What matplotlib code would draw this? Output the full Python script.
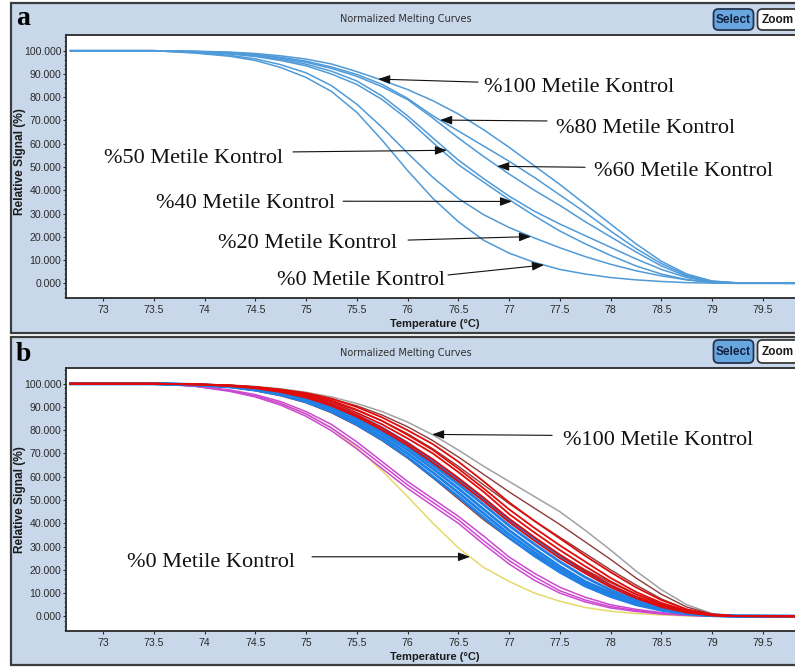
import matplotlib.pyplot as plt
from matplotlib.patches import Rectangle, FancyBboxPatch
from matplotlib.ticker import MultipleLocator, FormatStrFormatter, FuncFormatter

# temperatures (deg C) at which every melting curve is read
temps = [72.68, 73.5, 73.9, 74.25, 74.5, 74.75, 75.0, 75.25, 75.5, 75.75, 76.0, 76.25,
         76.5, 76.75, 77.0, 77.25, 77.5, 77.75, 78.0, 78.25, 78.5, 78.75, 79.0, 79.25, 79.9]

# (a) methylation control standards, relative signal (%)
met100 = [100, 100, 99.8, 99.4, 98.8, 97.8, 96.4, 94.3, 91.0, 87.3, 83.3, 78.5, 72.8, 66.0,
          58.5, 50.5, 42.5, 34.0, 25.5, 17.0, 9.5, 4.0, 1.0, 0.2, 0]
met80 = [100, 100, 99.7, 99.2, 98.4, 97.2, 95.5, 93.0, 89.8, 85.5, 79.5, 72.0, 65.5, 59.0,
         52.5, 45.5, 38.0, 30.5, 22.5, 15.0, 8.5, 3.5, 0.9, 0.2, 0]
met60 = [100, 100, 99.6, 99.0, 98.1, 96.8, 95.0, 92.4, 89.0, 84.5, 79.0, 71.0, 62.5, 54.5,
         47.0, 40.0, 33.5, 26.5, 20.0, 13.5, 7.5, 3.0, 0.7, 0.1, 0]
met50 = [100, 100, 99.5, 98.8, 97.8, 96.3, 94.2, 91.2, 87.0, 80.5, 72.0, 62.5, 53.0, 45.0,
         37.5, 31.0, 25.5, 20.5, 15.5, 10.5, 6.0, 2.5, 0.6, 0.1, 0]
met40 = [100, 100, 99.4, 98.6, 97.5, 95.8, 93.5, 90.0, 85.5, 79.0, 70.5, 60.5, 51.0, 43.5,
         36.0, 29.0, 22.5, 17.0, 12.0, 7.5, 4.0, 1.6, 0.4, 0.1, 0]
met20 = [100, 100, 99.2, 98.0, 96.5, 94.0, 90.5, 85.0, 77.0, 67.0, 56.0, 45.5, 36.5, 29.5,
         24.0, 19.5, 15.3, 11.5, 8.2, 5.4, 3.2, 1.5, 0.4, 0, 0]
met0 = [100, 100, 99.0, 97.6, 95.8, 92.8, 88.5, 82.5, 73.5, 61.5, 48.5, 36.5, 26.5, 18.5,
        13.0, 9.0, 6.0, 4.0, 2.5, 1.5, 0.8, 0.3, 0.1, 0, 0]

# (b) samples run together with the controls
gray = [100, 100, 99.8, 99.4, 98.8, 97.8, 96.3, 94.3, 91.5, 88.0, 83.5, 78.0, 71.5, 64.5,
        58.0, 51.5, 45.0, 37.0, 28.5, 19.5, 11.5, 5.0, 1.2, 0.2, 0]
browns = [
    [100, 100, 99.8, 99.3, 98.6, 97.5, 95.8, 93.5, 90.5, 86.5, 81.5, 75.5, 68.5, 61.0,
     53.5, 46.5, 39.5, 32.0, 24.5, 16.5, 9.5, 4.0, 1.0, 0.2, 0],
    [100, 100, 99.7, 99.2, 98.4, 97.0, 95.0, 92.2, 88.5, 84.0, 78.5, 72.0, 64.5, 56.5,
     48.5, 41.0, 34.0, 27.0, 20.0, 13.5, 7.5, 3.0, 0.8, 0.1, 0],
    [100, 100, 99.6, 98.9, 97.8, 96.0, 93.5, 90.0, 85.5, 80.0, 73.5, 66.0, 58.0, 49.5,
     41.0, 33.5, 26.5, 20.0, 14.5, 9.5, 5.5, 2.5, 0.6, 0.1, 0],
    [100, 100, 99.5, 98.5, 97.0, 94.8, 91.8, 87.5, 82.0, 75.5, 68.0, 59.5, 50.5, 41.5,
     33.5, 26.5, 20.5, 15.0, 10.5, 6.5, 3.5, 1.5, 0.4, 0.1, 0],
]
reds = [
    [100, 100, 99.8, 99.3, 98.6, 97.5, 96.0, 93.6, 90.0, 85.5, 80.0, 74.0, 66.5, 58.0,
     49.0, 41.0, 33.5, 26.0, 19.0, 12.5, 7.0, 3.0, 0.8, 0.1, 0],
    [100, 100, 99.8, 99.2, 98.5, 97.3, 95.5, 92.8, 88.8, 84.0, 78.0, 71.5, 63.5, 55.0,
     46.0, 38.0, 30.5, 23.5, 16.5, 10.5, 5.8, 2.4, 0.6, 0.1, 0],
    [100, 100, 99.7, 99.2, 98.4, 97.2, 95.0, 92.0, 87.5, 82.5, 76.5, 70.0, 62.0, 53.5,
     44.0, 36.0, 28.5, 21.5, 15.0, 9.5, 5.0, 2.0, 0.5, 0.1, 0],
    [100, 100, 99.7, 99.1, 98.2, 96.8, 94.5, 91.2, 86.5, 81.0, 74.5, 67.5, 59.5, 51.0,
     42.0, 34.0, 26.5, 19.5, 13.5, 8.5, 4.5, 1.8, 0.5, 0.1, 0],
    [100, 100, 99.7, 99.0, 98.0, 96.4, 94.0, 90.5, 85.8, 80.0, 73.5, 66.0, 58.0, 49.5,
     40.5, 32.5, 25.0, 18.5, 12.5, 7.8, 4.0, 1.6, 0.4, 0.1, 0],
]
blues = [
    [100, 100, 99.7, 99.0, 98.0, 96.5, 94.2, 91.0, 86.5, 81.0, 74.5, 67.0, 59.0, 50.5,
     41.5, 33.5, 26.0, 19.0, 13.0, 8.0, 4.5, 2.0, 0.5, 0.1, 0],
    [100, 100, 99.6, 98.9, 97.8, 96.1, 93.6, 90.0, 85.2, 79.5, 72.8, 65.0, 56.8, 48.0,
     39.0, 31.0, 23.5, 16.8, 11.3, 7.0, 3.8, 1.6, 0.4, 0.1, 0],
    [100, 100, 99.6, 98.8, 97.6, 95.8, 93.2, 89.5, 84.5, 78.5, 71.5, 63.5, 55.0, 46.0,
     37.0, 29.0, 21.5, 15.0, 10.0, 6.0, 3.2, 1.3, 0.4, 0.1, 0],
    [100, 100, 99.5, 98.7, 97.4, 95.5, 92.7, 88.8, 83.5, 77.2, 70.0, 61.8, 53.2, 44.2,
     35.3, 27.5, 20.2, 14.0, 9.2, 5.5, 2.9, 1.2, 0.3, 0.1, 0],
    [100, 100, 99.5, 98.6, 97.2, 95.2, 92.2, 88.0, 82.5, 76.0, 68.5, 60.0, 51.5, 42.5,
     33.8, 26.0, 19.0, 13.0, 8.5, 5.0, 2.6, 1.1, 0.3, 0.1, 0],
]
magentas = [
    [100, 100, 99.1, 97.3, 95.3, 92.3, 88.0, 82.5, 75.0, 66.5, 58.0, 50.5, 43.0, 34.5,
     25.5, 18.5, 12.5, 8.2, 5.0, 3.0, 1.6, 0.6, 0.1, 0, 0],
    [100, 100, 99.0, 97.0, 94.8, 91.5, 87.0, 81.0, 73.5, 65.0, 56.5, 49.0, 41.5, 32.5,
     24.0, 17.0, 11.0, 7.0, 4.2, 2.5, 1.3, 0.5, 0.1, 0, 0],
    [100, 100, 98.9, 96.7, 94.3, 90.8, 86.0, 79.8, 72.0, 63.5, 55.0, 47.5, 40.0, 31.0,
     22.5, 15.5, 10.0, 6.2, 3.6, 2.1, 1.0, 0.4, 0.1, 0, 0],
]
yellow = [100, 100, 99.0, 97.0, 94.8, 91.5, 87.0, 81.0, 72.5, 62.5, 51.5, 40.0, 29.5, 21.0,
          15.0, 10.0, 6.5, 3.8, 2.2, 1.2, 0.6, 0.2, 0, 0, 0]

curves_a = [met100, met80, met60, met50, met40, met20, met0]

# label text, text anchor (T, signal), arrow start, arrow tip
notes_a = [
    ('%100 Metile Kontrol', (76.754, 82.2), (76.695, 86.5), (75.709, 87.8)),
    ('%80 Metile Kontrol', (77.463, 64.6), (77.374, 69.8), (76.320, 70.2)),
    ('%60 Metile Kontrol', (77.837, 46.1), (77.749, 49.9), (76.882, 50.3)),
    ('%50 Metile Kontrol', (73.010, 51.7), (74.872, 56.5), (76.389, 57.2)),
    ('%40 Metile Kontrol', (73.522, 32.4), (75.365, 35.3), (77.030, 35.2)),
    ('%20 Metile Kontrol', (74.133, 15.2), (76.005, 18.6), (77.217, 20.1)),
    ('%0 Metile Kontrol', (74.714, -0.7), (76.399, 3.6), (77.345, 7.9)),
]
notes_b = [
    ('%100 Metile Kontrol', (77.532, 73.7), (77.424, 77.8), (76.241, 78.2)),
    ('%0 Metile Kontrol', (73.236, 21.2), (75.059, 25.6), (76.616, 25.6)),
]

plt.rcParams['font.family'] = ['Liberation Sans', 'DejaVu Sans']

fig = plt.figure(figsize=(7.95, 6.70), dpi=100)

# window chrome drawn in pixel units
bg = fig.add_axes([0, 0, 1, 1])
bg.set_xlim(0, 795)
bg.set_ylim(670, 0)
bg.axis('off')


def draw_window(top, bottom, letter, base, btn_top, btn_h):
    bg.add_patch(Rectangle((10.5, top), 820, bottom - top, facecolor='#c8d8ea',
                           edgecolor='#3c3c3c', lw=1.6))
    bg.text(16, base, letter, fontsize=20, fontweight='bold',
            family='Liberation Serif', va='baseline', ha='left')
    bg.text(406, top + 16.5, 'Normalized Melting Curves', fontsize=7,
            family='DejaVu Sans', color='#303030', ha='center', va='center')
    bg.add_patch(FancyBboxPatch((713.5, btn_top), 40, btn_h,
                                boxstyle='round,pad=0,rounding_size=5',
                                facecolor='#68a6e0', edgecolor='#24344f', lw=1.3))
    bg.text(733.5, btn_top + btn_h / 2 + 0.5, 'Select', fontsize=8.5, fontweight='bold',
            color='#14203c', ha='center', va='center')
    bg.add_patch(FancyBboxPatch((757.5, btn_top), 60, btn_h,
                                boxstyle='round,pad=0,rounding_size=5',
                                facecolor='white', edgecolor='#3a3a3a', lw=1.3))
    bg.text(762, btn_top + btn_h / 2 + 0.5, 'Zoom', fontsize=8.5, fontweight='bold',
            color='#1a1a1a', ha='left', va='center')


draw_window(3, 333, 'a', 25, 9, 21)
draw_window(337, 665, 'b', 361, 340, 23)


def style_axes(ax, ylab_y):
    ax.set_xlim(72.635, 79.817)
    ax.set_ylim(-6.3, 106.75)
    ax.xaxis.set_major_locator(MultipleLocator(0.5))
    ax.xaxis.set_major_formatter(FuncFormatter(lambda v, p: f'{v:g}'))
    ax.yaxis.set_major_locator(MultipleLocator(10))
    ax.yaxis.set_minor_locator(MultipleLocator(2))
    ax.yaxis.set_major_formatter(FormatStrFormatter('%.3f'))
    ax.tick_params(axis='both', which='major', labelsize=7.6, colors='#2a2a2a',
                   length=2.5, width=0.8)
    ax.tick_params(axis='x', pad=2.5)
    ax.tick_params(axis='y', pad=0.8)
    ax.tick_params(axis='y', which='minor', length=1.5, width=0.6, colors='#555555')
    for side in ['left', 'top', 'bottom']:
        ax.spines[side].set_color('#2a2a2a')
        ax.spines[side].set_linewidth(1.3)
    ax.spines['right'].set_visible(False)
    ax.set_xlabel('Temperature (°C)', fontsize=8, fontweight='bold', color='#1a1a1a')
    ax.xaxis.set_label_coords(0.506, -0.080)
    ax.set_ylabel('Relative Signal (%)', fontsize=8.6, fontweight='bold', color='#1a1a1a')
    ax.yaxis.set_label_coords(-0.055, ylab_y)


def add_notes(ax, notes):
    for text, txy, start, tip in notes:
        ax.text(txy[0], txy[1], text, fontsize=16, family='Liberation Serif',
                ha='left', va='baseline', color='#111111')
        ax.annotate('', xy=tip, xytext=start,
                    arrowprops=dict(arrowstyle='-|>,head_length=0.6,head_width=0.22',
                                    color='#111111', lw=0.8, mutation_scale=12,
                                    shrinkA=0, shrinkB=0))


# Graph a: the seven control standards
ax_a = fig.add_axes([66 / 795, (670 - 298) / 670, 729 / 795, 263 / 670])
for c in curves_a:
    ax_a.plot(temps, c, color='#4f9ad8', lw=1.1)
style_axes(ax_a, 0.52)
add_notes(ax_a, notes_a)

# Graph b: samples coloured by group, reds drawn last so they sit on top
ax_b = fig.add_axes([66 / 795, (670 - 631) / 670, 729 / 795, 263 / 670])
ax_b.plot(temps, gray, color='#a2a2a2', lw=1.1)
ax_b.plot(temps, yellow, color='#e4da6a', lw=1.1)
for c in magentas:
    ax_b.plot(temps, c, color='#cc48d0', lw=1.1)
for c in browns:
    ax_b.plot(temps, c, color='#8e3b3b', lw=1.0)
for c in blues:
    ax_b.plot(temps, c, color='#1f80e6', lw=2.0)
for c in reds:
    ax_b.plot(temps, c, color='#e00c0c', lw=1.3)
style_axes(ax_b, 0.50)
add_notes(ax_b, notes_b)

fig.savefig('out.png', dpi=100)
